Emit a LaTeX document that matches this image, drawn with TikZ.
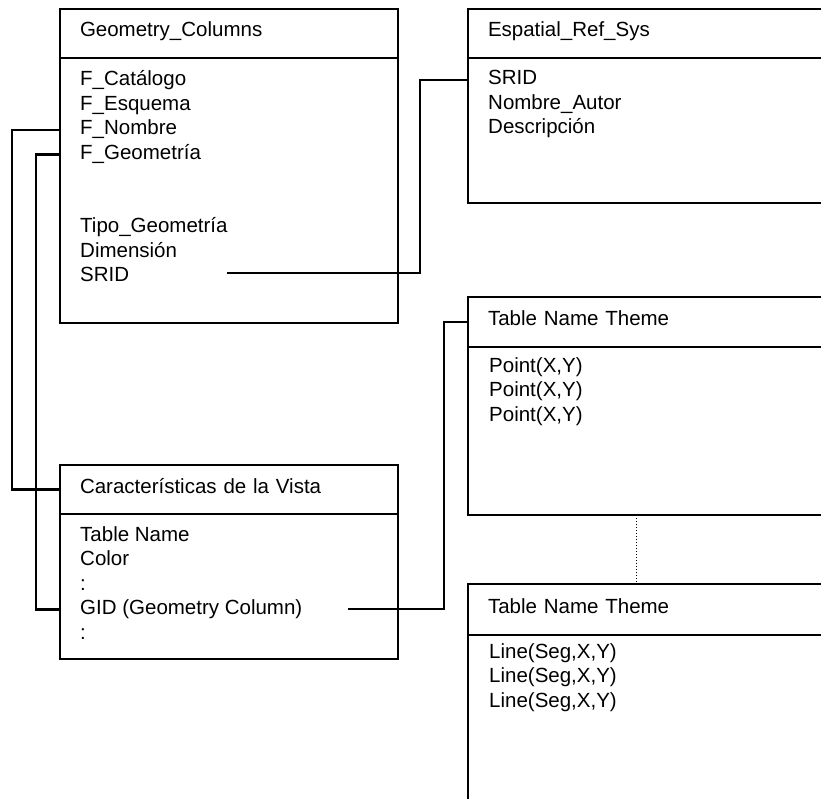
\documentclass[tikz,border=0pt]{standalone}
\usepackage{fontspec}
\setmainfont{Liberation Sans}
\usetikzlibrary{positioning,calc}

\begin{document}
\begin{tikzpicture}[
    x=1pt, y=-1pt,
    font=\fontsize{20.5}{24.5}\selectfont,
    tblhead/.style={draw, line width=2.2pt, anchor=north west, minimum height=49pt,
                    inner xsep=20pt, inner ysep=0pt, outer sep=0pt,
                    text height=14pt, text depth=7pt, align=left},
    tblbody/.style={draw, line width=2.2pt, anchor=north west, inner sep=0pt, outer sep=0pt},
    row/.style={anchor=base west, inner sep=0pt, text height=14pt, text depth=4pt},
    link/.style={line width=2.2pt},
    dots/.style={line width=1pt, dotted},
]
\useasboundingbox (0,0) rectangle (821,799);
\clip (0,0) rectangle (821,799);

% === Geometry_Columns ===
\node[tblhead, text width=298pt] (gc-head) at (60,9) {Geometry\_Columns};
\node[tblbody, minimum width=338pt, minimum height=265pt] (gc-body) at (gc-head.south west) {};
\foreach \n/\k/\t in {catalogo/0/F\_Catálogo, esquema/1/F\_Esquema, nombre/2/F\_Nombre,
                      geometria/3/F\_Geometría, tipo/6/Tipo\_Geometría,
                      dimension/7/Dimensión, srid/8/SRID}
  \node[row] (gc-\n) at (80, 86+24.5*\k) {\t};

% === Espatial_Ref_Sys ===
\node[tblhead, text width=352pt] (es-head) at (468,9) {Espatial\_Ref\_Sys};
\node[tblbody, minimum width=392pt, minimum height=145pt] (es-body) at (es-head.south west) {};
\foreach \n/\k/\t in {srid/0/SRID, autor/1/Nombre\_Autor, descripcion/2/Descripción}
  \node[row] (es-\n) at (488, 85+24.5*\k) {\t};

% === Caracteristicas de la Vista ===
\node[tblhead, text width=298pt] (cv-head) at (60,465) {Características de la Vista};
\node[tblbody, minimum width=338pt, minimum height=145pt] (cv-body) at (cv-head.south west) {};
\foreach \n/\k/\t in {tabla/0/Table Name, color/1/Color, puntos/2/:,
                      gid/3/GID (Geometry Column), resto/4/:}
  \node[row] (cv-\n) at (80, 541+24.5*\k) {\t};

% === Theme tables (points, lines) ===
\node[tblhead, text width=352pt, minimum height=50pt] (tp-head) at (468,297) {Table Name Theme};
\node[tblbody, minimum width=392pt, minimum height=168pt] (tp-body) at (tp-head.south west) {};
\foreach \k in {0,1,2}
  \node[row] (tp-\k) at (489, 372+24.5*\k) {Point(X,Y)};

\node[tblhead, text width=352pt, minimum height=51pt] (tl-head) at (468,584) {Table Name Theme};
\node[tblbody, minimum width=392pt, minimum height=206pt] (tl-body) at (tl-head.south west) {};
\foreach \k in {0,1,2}
  \node[row] (tl-\k) at (489, 658+24.5*\k) {Line(Seg,X,Y)};

% === Connectors ===
\coordinate (srid-tail) at (227,273);
\coordinate (gid-tail) at (348,609);

\draw[link] (gc-body.west |- gc-nombre.west) -- ++(-48,0) |- (cv-head.west);
\draw[link] (gc-body.west |- gc-geometria.west) -- ++(-24,0) |- (cv-body.west |- cv-gid.west);
\draw[link] (srid-tail) -- ++(193,0) |- (es-body.west |- es-srid.west);
\draw[link] (gid-tail) -- ++(96,0) |- (tp-head.west);
\draw[dots] ([xshift=168pt]tp-body.south west) -- ([xshift=168pt]tl-head.north west);

\end{tikzpicture}
\end{document}
